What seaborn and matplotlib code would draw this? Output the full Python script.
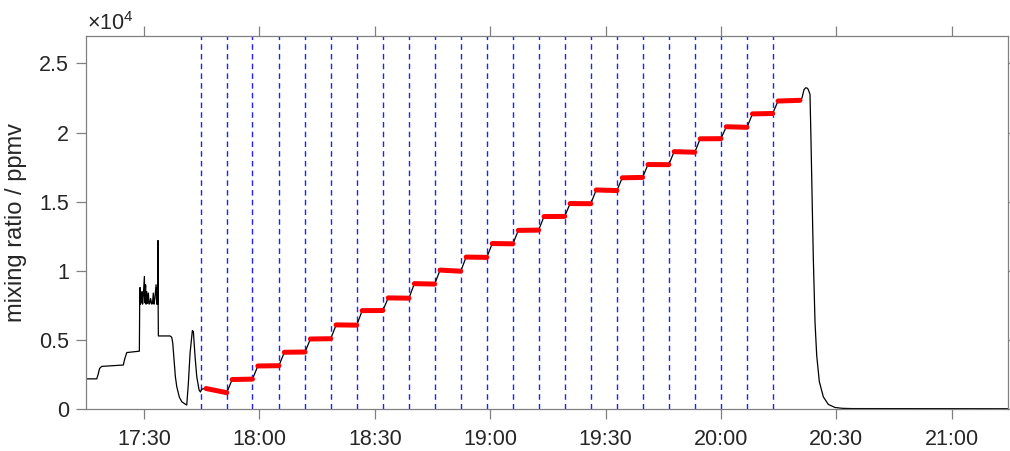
import numpy as np
import pandas as pd
import matplotlib
matplotlib.use("Agg")
import matplotlib.pyplot as plt
import matplotlib.dates as mdates
from matplotlib.ticker import FuncFormatter, MultipleLocator
import seaborn as sns

DAY = "2021-06-15"

# ---- data -------------------------------------------------------------
# Calibration step boundaries (dashed markers), clock time
step_marks = ["17:44:43", "17:51:30", "17:58:11", "18:05:04", "18:11:51",
              "18:18:32", "18:25:18", "18:32:05", "18:38:52", "18:45:33",
              "18:52:20", "18:59:07", "19:05:54", "19:12:35", "19:19:22",
              "19:26:09", "19:32:56", "19:39:37", "19:46:25", "19:53:11",
              "19:59:59", "20:06:46", "20:13:26"]
last_step_end = "20:20:32"

# Plateau mixing ratio (ppmv) at start and end of each step
level_start = [1500, 2150, 3130, 4120, 5080, 6100, 7130, 8050, 9080, 10060,
               11000, 11980, 12930, 13930, 14870, 15850, 16730, 17690, 18620,
               19550, 20420, 21350, 22280]
level_end = [1200, 2180, 3150, 4140, 5100, 6080, 7140, 8030, 9050, 9980,
             10980, 11960, 12950, 13940, 14860, 15810, 16760, 17680, 18580,
             19560, 20380, 21380, 22330]

# Signal before the calibration sequence (minutes after 17:00, ppmv)
pre_min = [14.84, 17.70, 18.04, 18.43, 19.00, 24.62, 24.93, 25.50, 28.78, 28.86,
           28.96, 29.08, 29.20, 29.32, 29.48, 29.62, 29.80, 30.08, 30.22, 30.40,
           30.52, 30.70, 30.90, 31.12, 31.30, 31.50, 31.70, 32.00, 32.20, 32.40,
           32.60, 32.80, 33.12, 33.30, 33.45, 33.56, 33.62, 33.66, 33.72,
           36.76, 37.20, 37.46, 37.80, 38.14, 38.50, 39.18, 39.80, 40.66, 41.10,
           41.52, 41.96, 42.56, 42.82, 43.26, 43.70, 44.30, 44.64, 45.00, 45.60]
pre_ppmv = [2200, 2200, 2500, 2950, 3100, 3200, 3600, 4100, 4200, 7600,
            8800, 7600, 8400, 7700, 8500, 7600, 8200, 9600, 7700, 9000,
            7600, 8500, 7650, 8400, 7600, 7650, 8000, 7600, 7650, 8400,
            7600, 8000, 9000, 7600, 8800, 7600, 12200, 7600, 5300,
            5300, 5200, 4780, 3570, 2360, 1640, 870, 550, 380, 310,
            1880, 4050, 5690, 5620, 3810, 2360, 1400, 1250, 1450, 1490]

# Signal after the last step: overshoot and flush-out
post_min = [201.06, 201.58, 202.02, 202.49, 202.70, 203.14, 203.40, 203.74,
            204.00, 204.44, 204.88, 205.56, 206.60, 207.90, 209.64, 211.50,
            214.00, 254.69]
post_ppmv = [22500, 23100, 23240, 23200, 23100, 22760, 19380, 14550,
             10930, 6300, 3900, 2000, 900, 350, 130, 70, 50, 40]

# ---- assemble series --------------------------------------------------
base = pd.Timestamp(f"{DAY} 17:00")
settle = pd.Timedelta(seconds=84)

def minutes(m):
    return base + pd.to_timedelta(np.asarray(m, dtype=float), unit="min")

marks = pd.to_datetime([f"{DAY} {s}" for s in step_marks])
bounds = list(marks) + [pd.Timestamp(f"{DAY} {last_step_end}")]

plat_rows = []
for k in range(len(step_marks)):
    t0 = bounds[k] + settle
    t1 = bounds[k + 1]
    plat_rows.append((t0, level_start[k], k))
    plat_rows.append((t1, level_end[k], k))
plateaus = pd.DataFrame(plat_rows, columns=["time", "ppmv", "step"])

trace = pd.concat([
    pd.DataFrame({"time": minutes(pre_min), "ppmv": pre_ppmv}),
    plateaus[["time", "ppmv"]],
    pd.DataFrame({"time": minutes(post_min), "ppmv": post_ppmv}),
], ignore_index=True)

# ---- plot -------------------------------------------------------------
sns.set_style("ticks")
plt.rcParams["font.family"] = ["Liberation Sans", "DejaVu Sans"]
plt.rcParams["mathtext.fontset"] = "custom"
plt.rcParams["mathtext.rm"] = "Liberation Sans"

fig = plt.figure(figsize=(10.10, 4.51), dpi=100)
ax = fig.add_axes([0.0849, 0.0925, 0.9134, 0.8283])

for t in marks:
    ax.axvline(t, color="#1f1fff", lw=1.0, ls=(0, (4, 3)), zorder=1)

sns.lineplot(data=trace, x="time", y="ppmv", ax=ax, color="black", lw=0.9,
             estimator=None, sort=False, zorder=2)
sns.lineplot(data=plateaus, x="time", y="ppmv", units="step", ax=ax,
             color="red", lw=3.6, estimator=None, sort=False, zorder=3,
             solid_capstyle="round")

ax.set_xlim(minutes(14.84), minutes(254.69))
ax.set_ylim(0, 27000)
ax.xaxis.set_major_locator(mdates.MinuteLocator(byminute=[0, 30]))
ax.xaxis.set_major_formatter(mdates.DateFormatter("%H:%M"))
ax.yaxis.set_major_locator(MultipleLocator(5000))
ax.yaxis.set_major_formatter(FuncFormatter(lambda v, _: f"{v / 1e4:g}"))

ax.set_xlabel("")
ax.set_ylabel("mixing ratio / ppmv", fontsize=17, color="#262626", labelpad=9)

for side in ["top", "right", "bottom", "left"]:
    ax.spines[side].set_visible(True)
    ax.spines[side].set_color("#808080")
    ax.spines[side].set_linewidth(0.9)
ax.tick_params(axis="both", which="major", direction="out", length=7,
               width=0.9, color="#808080", labelsize=15.5,
               labelcolor="#262626", top=True, right=True, pad=5)
ax.tick_params(axis="x", pad=7)

fig.text(87 / 1010, 1 - 30 / 451, r"$\times\mathregular{10^{4}}$",
         fontsize=15.5, color="#262626", ha="left", va="baseline")

fig.savefig("out.png", dpi=100)
